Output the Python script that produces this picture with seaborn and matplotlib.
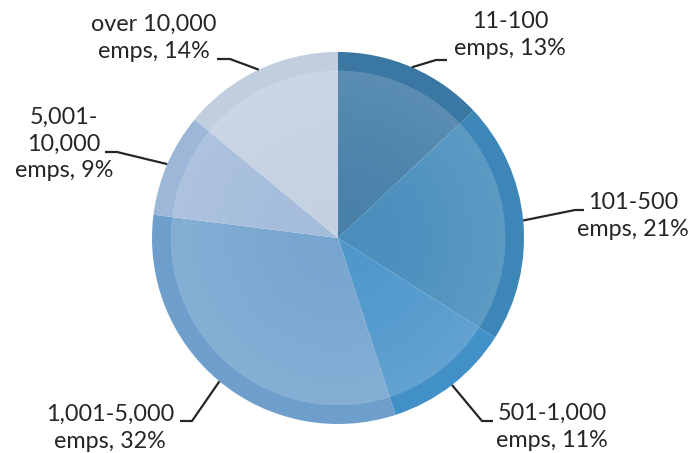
import numpy as np
import matplotlib
matplotlib.use("Agg")
import matplotlib.pyplot as plt
from matplotlib.patches import Circle
import seaborn as sns

# Share of companies by employee count
categories = ["11-100", "101-500", "501-1,000", "1,001-5,000", "5,001-10,000", "over 10,000"]
shares = [13, 21, 11, 32, 9, 14]
label_texts = [
    "11-100\nemps, 13%",
    "101-500\nemps, 21%",
    "501-1,000\nemps, 11%",
    "1,001-5,000\nemps, 32%",
    "5,001-\n10,000\nemps, 9%",
    "over 10,000\nemps, 14%",
]
slice_colors = ["#3A77A2", "#3C86B8", "#4290C8", "#6E9FCC", "#9DB7D8", "#C0CEDF"]

sns.set_theme(style="white")
plt.rcParams["font.family"] = ["Lato", "DejaVu Sans"]

W, H = 694, 453
fig = plt.figure(figsize=(W / 100, H / 100), dpi=100)
ax = fig.add_axes([0, 0, 1, 1])

cx, cy, R = 338, H - 238, 186
palette = sns.color_palette(slice_colors)

wedges, _ = ax.pie(shares, colors=palette, startangle=90, counterclock=False,
                   center=(cx, cy), radius=R, frame=True,
                   wedgeprops=dict(linewidth=0, antialiased=True))
ax.set_xlim(0, W)
ax.set_ylim(0, H)
ax.set_aspect("equal")
ax.axis("off")

# soft inner disk: white haze that grows toward its rim
r_in = R * 0.9
n = 400
xs = np.linspace(-r_in, r_in, n)
XX, YY = np.meshgrid(xs, xs)
rr = np.sqrt(XX ** 2 + YY ** 2) / r_in
alpha = np.clip(0.07 + 0.10 * rr ** 1.5, 0, 1)
haze = np.ones((n, n, 4))
haze[..., 3] = alpha
im = ax.imshow(haze, extent=(cx - r_in, cx + r_in, cy - r_in, cy + r_in),
               origin="lower", interpolation="bilinear", zorder=3)
im.set_clip_path(Circle((cx, cy), r_in, transform=ax.transData))

# leader lines: from the wedge's mid-angle on the rim to an elbow, then a short run
elbows = [((436, 60), (447, 60)),
          ((575, 210), (584, 210)),
          ((482, 421), (493, 421)),
          ((192, 421), (180, 421)),
          ((117, 152), (105, 152)),
          ((230, 59), (217, 59))]
text_pos = [(510, 35), (633, 216), (552, 427), (110, 428), (64, 144), (154, 38)]

for w, (elb, end), (tx, ty), txt in zip(wedges, elbows, text_pos, label_texts):
    mid = np.deg2rad((w.theta1 + w.theta2) / 2)
    ax_x = cx + R * np.cos(mid)
    ax_y = cy + R * np.sin(mid)
    ax.plot([ax_x, elb[0], end[0]], [ax_y, H - elb[1], H - end[1]],
            color="#262626", lw=1.6, solid_capstyle="butt", zorder=4)
    ax.text(tx, H - ty, txt, ha="center", va="center", fontsize=16.8,
            color="#262626", linespacing=1.32, zorder=5)

fig.savefig("out.png", dpi=100, facecolor="white")
